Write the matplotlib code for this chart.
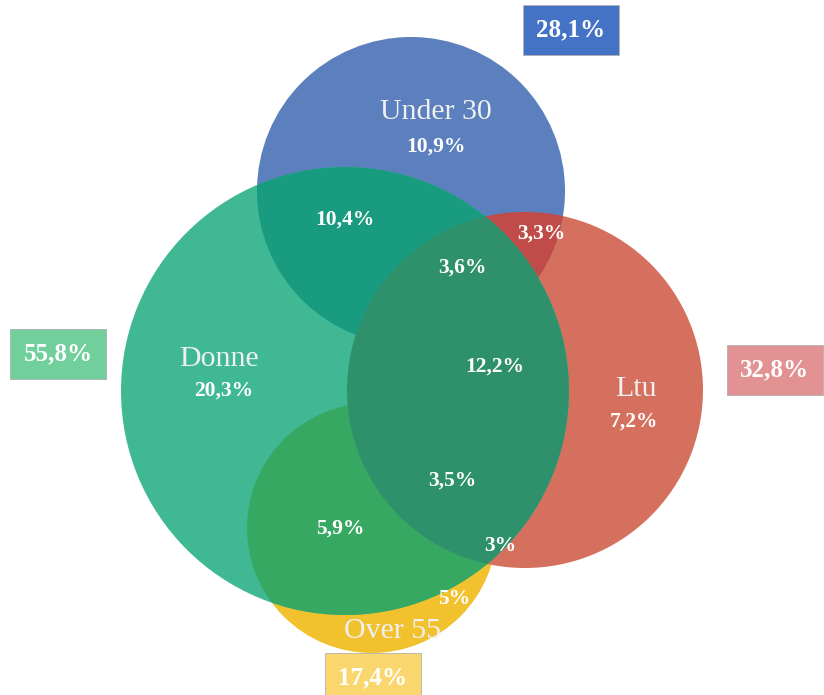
import matplotlib
matplotlib.use("Agg")
import matplotlib.pyplot as plt
from matplotlib.patches import Circle

# Dati
insiemi = ["Under 30", "Donne", "Ltu", "Over 55"]
totali = ["28,1%", "55,8%", "32,8%", "17,4%"]
regioni = ["10,9%", "20,3%", "7,2%", "10,4%", "3,3%", "3,6%", "12,2%", "3,5%", "5,9%", "3%", "5%"]

# Layout (pixel dell'immagine, y verso il basso)
cerchi = {
    "Under 30": ((411, 191), 154),
    "Donne": ((345, 391), 224),
    "Ltu": ((525, 390), 178),
    "Over 55": ((372, 528), 125),
}
colori = {
    "Under 30": "#5b80bd",
    "Donne": "#40b894",
    "Ltu": "#d5705f",
    "Over 55": "#f2c12e",
}
colori_box = {
    "Under 30": "#4472c4",
    "Donne": "#70cf9b",
    "Ltu": "#e39293",
    "Over 55": "#f9d66e",
}
pos_nomi = {
    "Under 30": (436, 112),
    "Donne": (219, 359),
    "Ltu": (636, 389),
    "Over 55": (393, 631),
}
pos_totali = {
    "Under 30": (571, 30),
    "Donne": (58, 354),
    "Ltu": (775, 370),
    "Over 55": (373, 678),
}
pos_regioni = [(436, 147), (224, 391), (634, 422), (345, 220), (541, 234),
               (462, 268), (495, 367), (452, 481), (340, 529), (500, 546), (454, 599)]

fig = plt.figure(figsize=(8.24, 6.95), dpi=100)
ax = fig.add_axes([0, 0, 1, 1])
ax.set_xlim(0, 824)
ax.set_ylim(695, 0)
ax.set_aspect('equal')
ax.axis('off')


def cerchio(nome, colore, clip=None, z=1):
    centro, raggio = cerchi[nome]
    c = Circle(centro, raggio, facecolor=colore, edgecolor='none', zorder=z)
    ax.add_patch(c)
    if clip is not None:
        cc, rr = cerchi[clip]
        clipper = Circle(cc, rr, transform=ax.transData, facecolor='none', edgecolor='none')
        ax.add_patch(clipper)
        clipper.set_visible(False)
        c.set_clip_path(clipper)
    return c


# cerchi pieni
cerchio("Over 55", colori["Over 55"], z=1)
cerchio("Ltu", colori["Ltu"], z=2)
cerchio("Under 30", colori["Under 30"], z=3)
cerchio("Under 30", "#c04b48", clip="Ltu", z=4)
cerchio("Donne", colori["Donne"], z=5)
# sovrapposizioni con Donne
cerchio("Under 30", "#199b80", clip="Donne", z=6)
cerchio("Over 55", "#37a862", clip="Donne", z=6)
cerchio("Ltu", "#2e916c", clip="Donne", z=7)

serif = ['Liberation Serif', 'DejaVu Serif']

for nome in insiemi:
    x, y = pos_nomi[nome]
    ax.text(x, y, nome, ha='center', va='center', fontsize=21.5, color='#f0f0f0',
            family=serif, zorder=10)

for val, (x, y) in zip(regioni, pos_regioni):
    ax.text(x, y, val, ha='center', va='center', fontsize=15.5, fontweight='bold',
            color='white', family=serif, zorder=10)

for nome, tot in zip(insiemi, totali):
    x, y = pos_totali[nome]
    ax.text(x, y, tot, ha='center', va='center', fontsize=18, fontweight='bold',
            color='white', family=serif, zorder=10,
            bbox=dict(boxstyle='square,pad=0.55', facecolor=colori_box[nome],
                      edgecolor='#b0b0b0', linewidth=0.6))

fig.savefig("out.png", dpi=100)
